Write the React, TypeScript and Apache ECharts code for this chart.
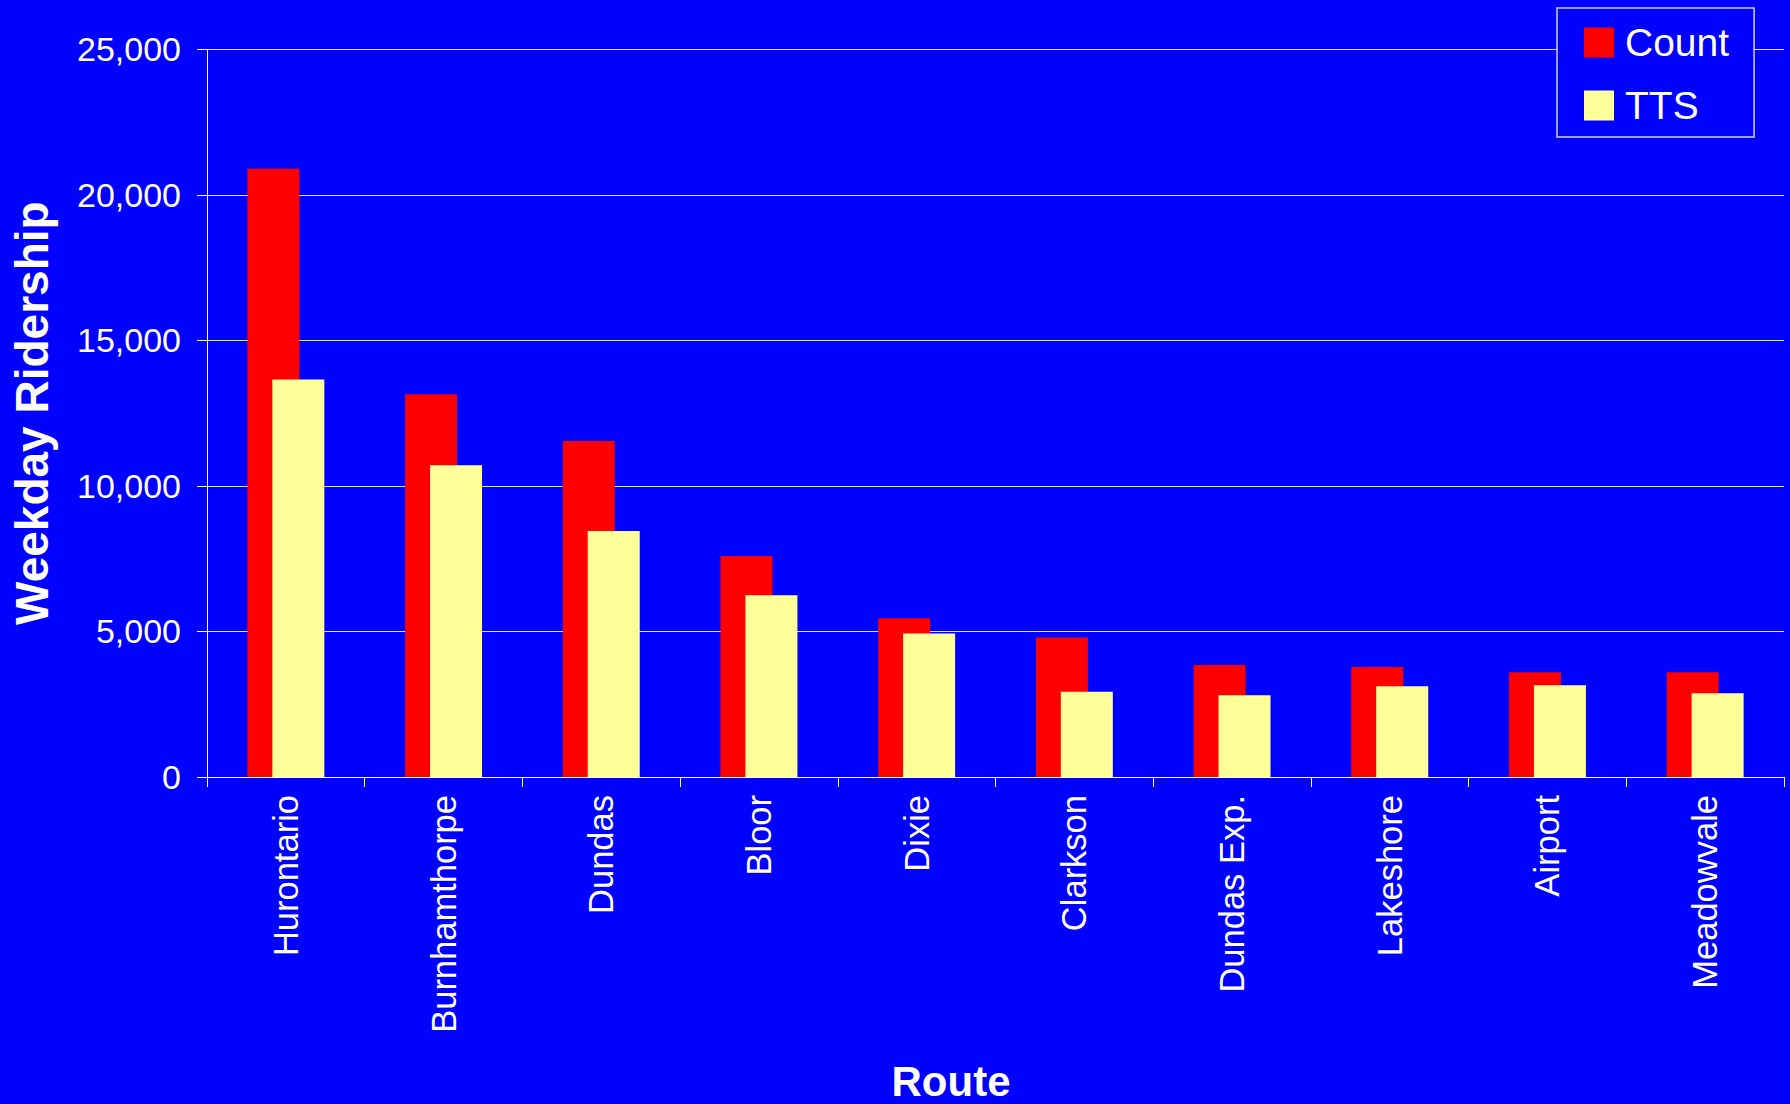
import React, { useEffect, useRef } from "react";
import * as echarts from "echarts";

const routes = [
  "Hurontario",
  "Burnhamthorpe",
  "Dundas",
  "Bloor",
  "Dixie",
  "Clarkson",
  "Dundas Exp.",
  "Lakeshore",
  "Airport",
  "Meadowvale",
];
const countValues = [20900, 13150, 11540, 7590, 5450, 4790, 3850, 3780, 3600, 3600];
const ttsValues = [13660, 10710, 8450, 6240, 4930, 2930, 2810, 3120, 3150, 2880];
const yMin = 0;
const yMax = 25000;
const yInterval = 5000;

const FONT = '"Liberation Sans", Arial, sans-serif';

export default function App() {
  const ref = useRef<HTMLDivElement>(null);

  useEffect(() => {
    if (!ref.current) return;
    const chart = echarts.init(ref.current, null, { renderer: "svg" });
    chart.setOption({
      animation: false,
      backgroundColor: "#0000ff",
      textStyle: { fontFamily: FONT },
      grid: { left: 207, right: 6, top: 49.3, bottom: 327, containLabel: false },
      legend: {
        orient: "vertical",
        left: 1557,
        top: 8,
        padding: [15, 25, 12, 27],
        itemWidth: 30,
        itemHeight: 30,
        itemGap: 24,
        icon: "rect",
        backgroundColor: "#0000ff",
        borderColor: "#d0d0ff",
        borderWidth: 1.5,
        borderRadius: 0,
        data: ["Count", "TTS"],
        textStyle: {
          color: "#ffffff",
          fontSize: 39,
          fontFamily: FONT,
          lineHeight: 30,
          padding: [0, 0, 0, 6],
        },
      },
      xAxis: {
        type: "category",
        data: routes,
        boundaryGap: true,
        axisLine: { show: true, lineStyle: { color: "#ffffff", width: 1 } },
        axisTick: { show: true, length: 10, alignWithLabel: false, lineStyle: { color: "#ffffff" } },
        axisLabel: {
          rotate: 90,
          interval: 0,
          margin: 18,
          color: "#ffffff",
          fontSize: 34.5,
          fontFamily: FONT,
        },
        splitLine: { show: false },
      },
      yAxis: {
        type: "value",
        min: yMin,
        max: yMax,
        interval: yInterval,
        name: "Weekday Ridership",
        nameLocation: "middle",
        nameGap: 152,
        nameTextStyle: {
          color: "#ffffff",
          fontSize: 46,
          fontWeight: "bold",
          fontFamily: FONT,
        },
        axisLine: { show: true, lineStyle: { color: "#ffffff", width: 1 } },
        axisTick: { show: true, length: 10, lineStyle: { color: "#ffffff" } },
        axisLabel: {
          color: "#ffffff",
          fontSize: 34,
          margin: 26,
          fontFamily: FONT,
          formatter: (v: number) => v.toLocaleString("en-US"),
        },
        splitLine: { show: true, lineStyle: { color: "#e0e0ff", width: 1 } },
      },
      graphic: [
        {
          type: "text",
          x: 951,
          y: 1081,
          style: {
            text: "Route",
            fill: "#ffffff",
            fontSize: 42,
            fontWeight: "bold",
            fontFamily: FONT,
            align: "center",
            verticalAlign: "middle",
          },
        },
      ],
      series: [
        {
          name: "Count",
          type: "bar",
          data: countValues,
          barWidth: 52,
          barGap: "-52%",
          itemStyle: { color: "#ff0000" },
        },
        {
          name: "TTS",
          type: "bar",
          data: ttsValues,
          barWidth: 52,
          barGap: "-52%",
          itemStyle: { color: "#ffff99" },
        },
      ],
    });
    return () => chart.dispose();
  }, []);

  return (
    <div
      ref={ref}
      style={{ position: "fixed", left: 0, top: 0, width: 1790, height: 1104 }}
    />
  );
}
